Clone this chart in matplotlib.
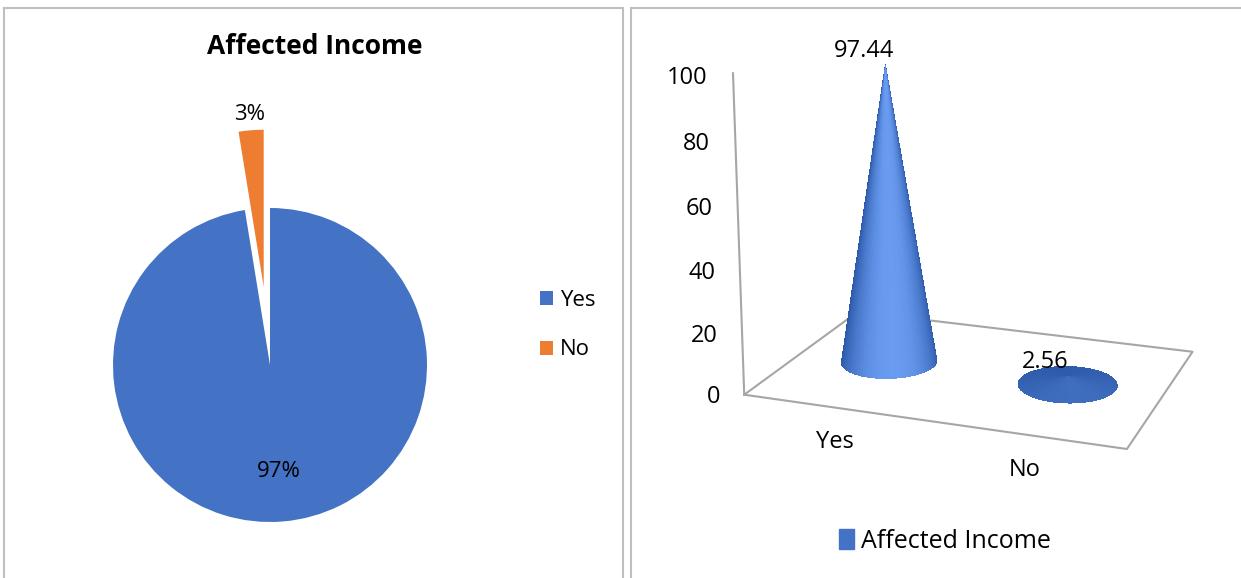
import numpy as np
import matplotlib
matplotlib.use("Agg")
import matplotlib.pyplot as plt
from matplotlib.patches import Rectangle, Patch
from matplotlib.colors import to_rgb

plt.rcParams['font.family'] = ['Open Sans', 'DejaVu Sans']

# survey answers: share of respondents whose income was affected
categories = ['Yes', 'No']
percent = [97.44, 2.56]
series_name = 'Affected Income'
value_ticks = [0, 20, 40, 60, 80, 100]

BLUE = '#4472C4'
ORANGE = '#ED7D31'
GRID = '#A6A6A6'
W, H = 1241, 578

fig = plt.figure(figsize=(W / 100, H / 100), dpi=100)


def px(x0, y0, x1, y1):
    # pixel box (top-left origin) -> figure fraction rect
    return [x0 / W, 1 - y1 / H, (x1 - x0) / W, (y1 - y0) / H]


# panel frames
for x0, x1 in [(4, 623), (631, 1250)]:
    fig.add_artist(Rectangle((x0 / W, -0.05), (x1 - x0) / W, 1.05 - 8 / H,
                             transform=fig.transFigure, fill=False,
                             edgecolor='#BFBFBF', linewidth=1.5))

# ---------------- pie ----------------
ax1 = fig.add_axes(px(70, 90, 470, 560))
wedges, _, autotexts = ax1.pie(percent, colors=[BLUE, ORANGE], startangle=90,
                               counterclock=False, explode=[0, 0.5],
                               autopct='%.0f%%', pctdistance=0.68,
                               textprops=dict(fontsize=16))
ax1.set_xlim(-200 / 157, 200 / 157)
ax1.set_ylim(-195 / 157, 275 / 157)
ax1.set_aspect('equal')
for w, t, d in zip(wedges, autotexts, [0.68, 1.1]):
    mid = np.deg2rad((w.theta1 + w.theta2) / 2)
    cx, cy = w.center
    t.set_position((cx + d * w.r * np.cos(mid), cy + d * w.r * np.sin(mid)))
fig.text(315 / W, 1 - 47 / H, 'Affected Income', fontsize=19,
         fontweight='bold', ha='center', va='center')

fig.legend(wedges, categories, loc='center left',
           bbox_to_anchor=(520 / W, 1 - 325 / H), frameon=False,
           fontsize=16, handlelength=0.6, handleheight=0.6,
           handletextpad=0.3, labelspacing=1.3)

# ---------------- 3D cones ----------------
# mplot3d keeps its axes square; the camera aims at the box centre, so the
# z range runs past 100 to lift the aim point above the floor
ELEV, AZIM = 13, -70
ZTOP = 140
ax2 = fig.add_axes(px(648, -153, 1288, 487), projection='3d')
ax2.set_axis_off()
ax2.computed_zorder = False
ax2.view_init(elev=ELEV, azim=AZIM)
ax2.set_proj_type('persp', focal_length=0.46)
ax2.set_box_aspect((399, 280, 3.3 * ZTOP), zoom=1.0)
ax2.set_xlim(0, 2)
ax2.set_ylim(0, 1)
ax2.set_zlim(0, ZTOP)

# floor outline and value axis
ax2.plot([0, 2, 2, 0, 0], [0, 0, 1, 1, 0], [0, 0, 0, 0, 0],
         color=GRID, lw=1.5, zorder=1, clip_on=False)
ax2.plot([0, 0], [0, 0], [0, max(value_ticks)], color=GRID, lw=1.5,
         zorder=1, clip_on=False)
for v in value_ticks:
    ax2.text(-0.14, 0, v - 2, str(v), ha='right', va='center', fontsize=17)

dark = np.array(to_rgb('#2A56A6'))
light = np.array(to_rgb('#6A9DF2'))
az = np.deg2rad(AZIM + 8)
el = np.deg2rad(ELEV + 6)
view = np.array([np.cos(el) * np.cos(az), np.cos(el) * np.sin(az), np.sin(el)])

theta = np.linspace(0, 2 * np.pi, 121)
s = np.linspace(0, 1, 2)
T, S = np.meshgrid(theta, s)
rx, ry = 0.255, 0.185
for i, (cat, val) in enumerate(zip(categories, percent)):
    xc, yc = i + 0.5, 0.5
    X = xc + rx * (1 - S) * np.cos(T)
    Y = yc + ry * (1 - S) * np.sin(T)
    Z = val * S
    # facet shading from the cone normal in display-scaled space
    hpx = val * 3.3
    tm = theta + np.pi / 120
    n = np.stack([hpx * np.cos(tm), hpx * np.sin(tm),
                  np.full_like(tm, 52.0)], axis=1)
    n /= np.linalg.norm(n, axis=1, keepdims=True)
    f = np.clip(n @ view, 0, 1) ** 1.5
    cols = dark[None, :] + (light - dark)[None, :] * f[:, None]
    cols = np.concatenate([cols, np.ones((len(cols), 1))], axis=1)
    fc = np.repeat(cols[None, :, :], len(s), axis=0)
    ax2.plot_surface(X, Y, Z, facecolors=fc, shade=False, linewidth=0,
                     antialiased=False, rstride=1, cstride=1, zorder=2 + i)
    ax2.text(xc - 0.12, yc, val + 4, f'{val:.2f}', ha='center',
             va='center', fontsize=17, zorder=5)
    ax2.text(xc, 0, -11, cat, ha='center', va='center', fontsize=17)

fig.legend(handles=[Patch(color=BLUE, label=series_name)], loc='center',
           bbox_to_anchor=(945 / W, 1 - 541 / H), frameon=False, fontsize=18,
           handlelength=0.6, handleheight=0.9, handletextpad=0.3)

fig.savefig('out.png', dpi=100)
